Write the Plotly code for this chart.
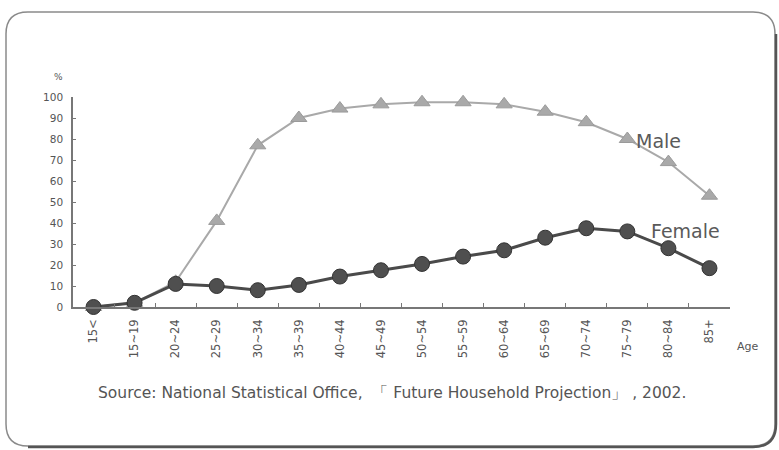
import plotly.graph_objects as go

W, H = 779, 450

age_groups = ["15<", "15~19", "20~24", "25~29", "30~34", "35~39", "40~44", "45~49",
              "50~54", "55~59", "60~64", "65~69", "70~74", "75~79", "80~84", "85+"]
age_labels = [a.replace("<", "&#60;") for a in age_groups]
male = [0, 2, 12, 41, 77, 90, 94.5, 96.5, 97.5, 97.5, 96.5, 93, 88, 80, 69, 53]
female = [0, 2, 11, 10, 8, 10.5, 14.5, 17.5, 20.5, 24, 27, 33, 37.5, 36, 28, 18.5]
y_ticks = [0, 10, 20, 30, 40, 50, 60, 70, 80, 90, 100]

FONT = "DejaVu Sans, Verdana, sans-serif"
TXT = "#555555"

fig = go.Figure()

fig.add_trace(go.Scatter(
    x=age_groups, y=male, mode="lines+markers", name="Male",
    line=dict(color="#a9a9a9", width=2),
    marker=dict(symbol="triangle-up", size=14, color="#a9a9a9",
                line=dict(color="#9a9a9a", width=1)),
    cliponaxis=False,
))
fig.add_trace(go.Scatter(
    x=age_groups, y=female, mode="lines+markers", name="Female",
    line=dict(color="#4a4a4a", width=3),
    marker=dict(symbol="circle", size=15, color="#4f4f4f",
                line=dict(color="#333333", width=1)),
    cliponaxis=False,
))

L, R, T, B = 73, 730, 97, 307
fig.update_layout(
    width=W, height=H,
    margin=dict(l=L, r=W - R, t=T, b=H - B),
    paper_bgcolor="white", plot_bgcolor="white",
    showlegend=False,
    font=dict(family=FONT, color=TXT),
    xaxis=dict(
        type="category", range=[-0.5, len(age_groups) - 0.5],
        tickmode="array", tickvals=age_groups, ticktext=age_labels,
        showline=True, linecolor="#777777", linewidth=1.5,
        ticks="inside", ticklen=4, tickcolor="#777777", tickson="boundaries",
        tickangle=-90, tickfont=dict(size=11.5, color=TXT), ticklabelstandoff=6,
        showgrid=False, zeroline=False,
    ),
    yaxis=dict(
        range=[0, 100], tickvals=y_ticks,
        showline=True, linecolor="#777777", linewidth=1.5,
        ticks="inside", ticklen=3, tickcolor="#777777",
        tickfont=dict(size=10.5, color=TXT), ticklabelstandoff=6,
        showgrid=False, zeroline=False,
    ),
)

# convert page pixels to paper coordinates (paper spans the plot area)
def px_x(v):
    return (v - L) / (R - L)

def px_y(v):
    return (B - v) / (B - T)

# rounded frame around the chart
r = 22
x0, y0, x1, y1 = 6, 12, 775, 446
path = (f"M {px_x(x0 + r)},{px_y(y0)} L {px_x(x1 - r)},{px_y(y0)} "
        f"Q {px_x(x1)},{px_y(y0)} {px_x(x1)},{px_y(y0 + r)} "
        f"L {px_x(x1)},{px_y(y1 - r)} Q {px_x(x1)},{px_y(y1)} {px_x(x1 - r)},{px_y(y1)} "
        f"L {px_x(x0 + r)},{px_y(y1)} Q {px_x(x0)},{px_y(y1)} {px_x(x0)},{px_y(y1 - r)} "
        f"L {px_x(x0)},{px_y(y0 + r)} Q {px_x(x0)},{px_y(y0)} {px_x(x0 + r)},{px_y(y0)} Z")
fig.add_shape(type="path", path=path, xref="paper", yref="paper",
              line=dict(color="#8a8a8a", width=1.5), layer="below")
# heavier shadow along the bottom-right edge
shadow = (f"M {px_x(x0 + r)},{px_y(y1 + 1)} L {px_x(x1 - r)},{px_y(y1 + 1)} "
          f"Q {px_x(x1 + 1)},{px_y(y1 + 1)} {px_x(x1 + 1)},{px_y(y1 - r)} "
          f"L {px_x(x1 + 1)},{px_y(y0 + r)}")
fig.add_shape(type="path", path=shadow, xref="paper", yref="paper",
              line=dict(color="#555555", width=2.5), layer="below")

def label(text, x, y, size, color=TXT, anchor="center"):
    fig.add_annotation(text=text, x=px_x(x), y=px_y(y), xref="paper", yref="paper",
                       showarrow=False, xanchor=anchor, yanchor="middle",
                       font=dict(size=size, color=color, family=FONT))

label("%", 58, 77, 9)
label("Age", 748, 346, 11)
label("Male", 634, 141, 19, color="#5a5a5a", anchor="left")
label("Female", 649, 231, 19, color="#5a5a5a", anchor="left")
label("Source: National Statistical Office,  「 Future Household Projection」 , 2002.",
      392, 393, 15.5)

fig.write_html("out.html")
